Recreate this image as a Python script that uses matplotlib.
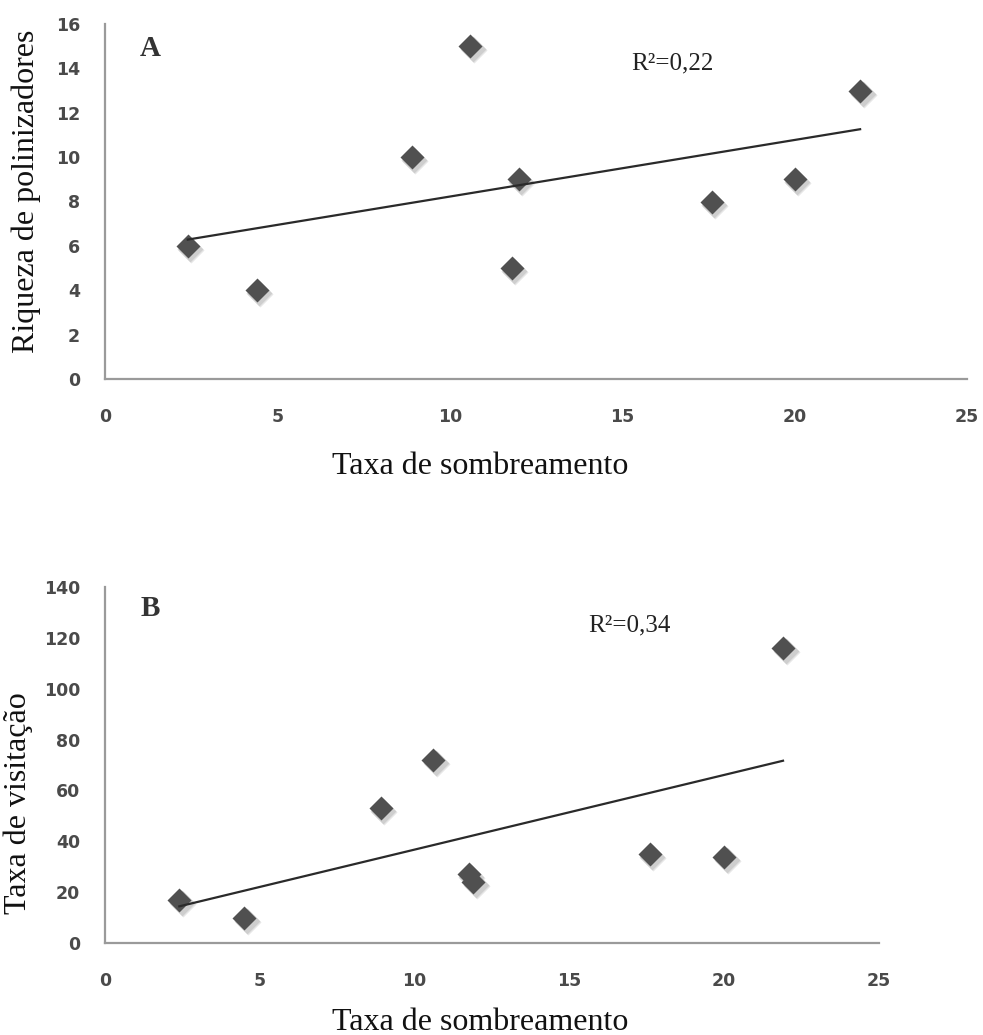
import numpy as np
import matplotlib
matplotlib.use("Agg")
import matplotlib.pyplot as plt
from matplotlib.transforms import offset_copy

# Data
shading = [2.4, 4.4, 8.9, 10.6, 11.8, 12.0, 17.6, 20.0, 21.9]
richness = [6, 4, 10, 15, 5, 9, 8, 9, 13]
shading_b = [2.4, 4.5, 8.9, 10.6, 11.75, 11.9, 17.6, 20.0, 21.9]
visitation = [17, 10, 53, 72, 27, 24, 35, 34, 116]

x_ticks = [0, 5, 10, 15, 20, 25]
y_ticks_a = [0, 2, 4, 6, 8, 10, 12, 14, 16]
y_ticks_b = [0, 20, 40, 60, 80, 100, 120, 140]

W, H = 983, 1035
fig = plt.figure(figsize=(W / 100, H / 100), dpi=100)

ax1 = fig.add_axes([105 / W, (H - 379) / H, 862 / W, 355 / H])
ax2 = fig.add_axes([105 / W, (H - 943) / H, 774 / W, 356 / H])

serif = "Liberation Serif"
marker_col = "#505050"


def style(ax, xs, ys, yticks, ymax, r2_pos, r2_txt, letter, letter_pos):
    ax.set_xlim(0, 25)
    ax.set_ylim(0, ymax)
    for s in ("top", "right"):
        ax.spines[s].set_visible(False)
    for s in ("left", "bottom"):
        ax.spines[s].set_color("#9a9a9a")
        ax.spines[s].set_linewidth(1.6)
    ax.set_xticks(x_ticks)
    ax.set_yticks(yticks)
    ax.tick_params(length=0)
    ax.tick_params(axis="y", pad=18)
    ax.tick_params(axis="x", pad=21)
    for lab in ax.get_xticklabels() + ax.get_yticklabels():
        lab.set_fontfamily("DejaVu Sans")
        lab.set_fontweight("bold")
        lab.set_fontsize(12.5)
        lab.set_color("#4a4a4a")
    # soft shadow
    for dx, dy, a in ((3.5, -4, 0.35), (2.5, -3, 0.5)):
        sh = offset_copy(ax.transData, fig=fig, x=dx, y=dy, units="dots")
        ax.plot(xs, ys, "D", ms=13.5, color="#b8b8b8", mec="none", alpha=a,
                transform=sh, clip_on=False, zorder=2)
    ax.plot(xs, ys, "D", ms=12.5, color=marker_col, mec="none",
            clip_on=False, zorder=3)
    # trend line
    k, b = np.polyfit(xs, ys, 1)
    xl = np.array([min(xs), max(xs)])
    ax.plot(xl, k * xl + b, color="#2a2a2a", lw=1.6, zorder=4)
    ax.text(r2_pos[0], r2_pos[1], r2_txt, transform=ax.transAxes,
            ha="center", va="center", family=serif, fontsize=18, color="#222222")
    ax.text(letter_pos[0], letter_pos[1], letter, transform=ax.transAxes,
            ha="center", va="center", family=serif, fontsize=21, color="#333333",
            fontweight="bold")


style(ax1, shading, richness, y_ticks_a, 16, (0.658, 0.89), "R²=0,22", "A", (0.052, 0.932))
style(ax2, shading_b, visitation, y_ticks_b, 140, (0.678, 0.893), "R²=0,34", "B", (0.058, 0.941))

# axis labels
fig.text(26 / W, 1 - 191 / H, "Riqueza de polinizadores", rotation=90,
         ha="center", va="center", family=serif, fontsize=23, color="#111111")
fig.text(480 / W, 1 - 466 / H, "Taxa de sombreamento",
         ha="center", va="center", family=serif, fontsize=23, color="#111111")
fig.text(18 / W, 1 - 803 / H, "Taxa de visitação", rotation=90,
         ha="center", va="center", family=serif, fontsize=23, color="#111111")
fig.text(480 / W, 1 - 1022 / H, "Taxa de sombreamento",
         ha="center", va="center", family=serif, fontsize=23, color="#111111")

fig.savefig("out.png", dpi=100, facecolor="white")
